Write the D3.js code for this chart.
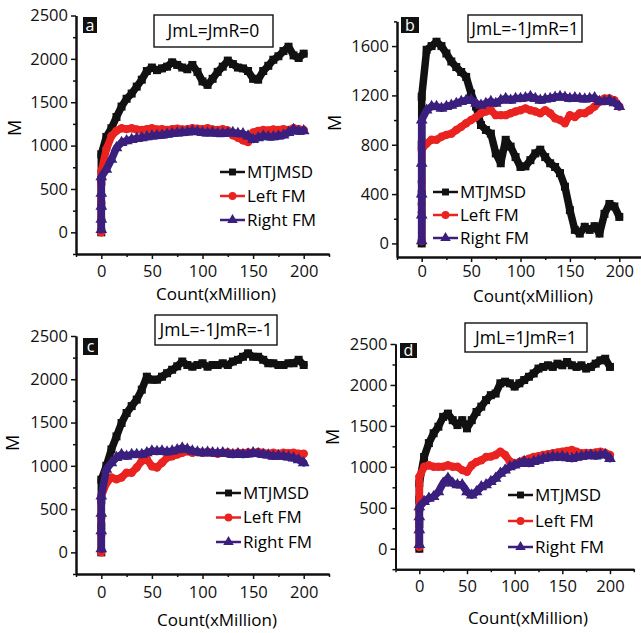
<!DOCTYPE html>
<html>
<head>
<meta charset="utf-8">
<script src="https://cdn.jsdelivr.net/npm/d3@7"></script>
<style>
  body { margin: 0; background: #fff; }
  svg { display: block; font-family: "Open Sans", sans-serif; }
  .axis path, .axis line { stroke: #111; }
  .axis text { fill: #111; }
</style>
</head>
<body>
<svg id="chart" width="641" height="633"></svg>
<script>
// x positions shared by every series (Count, xMillion)
var countX = [0, 5, 10, 15, 20, 25, 30, 35, 40, 45, 50, 55, 60, 65, 70, 75, 80, 85, 90, 95, 100,
  105, 110, 115, 120, 125, 130, 135, 140, 145, 150, 155, 160, 165, 170, 175, 180, 185, 190, 195, 200];

var seriesNames = ['MTJMSD', 'Left FM', 'Right FM'];
var seriesColors = ['#111111', '#ea2320', '#3a1f7e'];
var panelLetters = ['a', 'b', 'c', 'd'];
var panelTitles = ['JmL=JmR=0', 'JmL=-1JmR=1', 'JmL=-1JmR=-1', 'JmL=1JmR=1'];

var xMajorTicks = [0, 50, 100, 150, 200];
var xMinorTicks = [-25, 25, 75, 125, 175, 225];
var yMajorTicks = [0, 500, 1000, 1500, 2000, 2500];
var yMinorTicks = [-250, 250, 750, 1250, 1750, 2250];
var yMajorTicksB = [0, 400, 800, 1200, 1600];
var yMinorTicksB = [200, 600, 1000, 1400, 1800];

// first climb, all at count = 0
var aMtjRise = [0, 300, 600];
var aLeftRise = [0, 150, 350, 550];
var aRightRise = [30, 150, 300, 450];
var bMtjRise = [0, 400, 800];
var bLeftRise = [20, 250, 320, 500];
var bRightRise = [20, 230, 400, 650];
var cMtjRise = [0, 300, 600];
var cLeftRise = [0, 200, 400];
var cRightRise = [40, 250, 450];
var dMtjRise = [0, 300, 600];
var dLeftRise = [20, 200, 470];
var dRightRise = [50, 230, 390];

// panel a  JmL=JmR=0
var aMtj = [900, 1100, 1200, 1330, 1450, 1540, 1600, 1680, 1760, 1860, 1900, 1870, 1890, 1910, 1960, 1930, 1900, 1880, 1930, 1850, 1740,
  1700, 1770, 1850, 1910, 1980, 1940, 1900, 1890, 1860, 1770, 1760, 1860, 1920, 1990, 2030, 2090, 2140, 2040, 2010, 2060];
var aLeft = [700, 960, 1110, 1170, 1200, 1190, 1200, 1185, 1180, 1190, 1200, 1185, 1190, 1180, 1190, 1195, 1185, 1190, 1200, 1195, 1190,
  1200, 1185, 1180, 1190, 1175, 1120, 1090, 1060, 1040, 1150, 1170, 1180, 1175, 1185, 1180, 1190, 1180, 1200, 1190, 1180];
var aRight = [640, 725, 840, 975, 1035, 1055, 1070, 1080, 1090, 1100, 1110, 1115, 1120, 1130, 1140, 1145, 1150, 1155, 1165, 1160, 1150,
  1145, 1150, 1140, 1140, 1145, 1150, 1140, 1135, 1110, 1070, 1090, 1110, 1100, 1100, 1110, 1120, 1150, 1185, 1165, 1170];

// panel b  JmL=-1JmR=1
var bMtj = [1190, 1570, 1600, 1635, 1600, 1540, 1475, 1430, 1390, 1350, 1215, 1110, 960, 920, 890, 730, 650, 840, 785, 700, 620,
  625, 675, 730, 760, 700, 650, 620, 570, 460, 270, 110, 80, 135, 110, 140, 80, 240, 320, 300, 215];
var bLeft = [760, 810, 840, 840, 865, 880, 890, 920, 945, 975, 1000, 1025, 1055, 1070, 1080, 1040, 1040, 1040, 1055, 1070, 1080,
  1095, 1080, 1070, 1055, 1080, 1055, 1015, 1000, 975, 1040, 1025, 1055, 1055, 1080, 1110, 1150, 1175, 1175, 1160, 1110];
var bRight = [1000, 1080, 1110, 1110, 1095, 1110, 1120, 1135, 1150, 1160, 1165, 1135, 1120, 1135, 1150, 1135, 1160, 1175, 1160, 1175, 1175,
  1180, 1190, 1175, 1160, 1170, 1175, 1185, 1190, 1185, 1175, 1180, 1175, 1170, 1175, 1180, 1150, 1150, 1160, 1140, 1110];

// panel c  JmL=-1JmR=-1
var cMtj = [840, 1000, 1190, 1340, 1495, 1610, 1690, 1765, 1880, 2030, 1995, 1995, 2030, 2070, 2110, 2150, 2205, 2165, 2145, 2165, 2185,
  2145, 2165, 2165, 2185, 2165, 2205, 2225, 2260, 2300, 2260, 2260, 2225, 2185, 2185, 2165, 2165, 2185, 2185, 2225, 2165];
var cLeft = [650, 800, 865, 845, 865, 920, 920, 980, 1055, 1075, 995, 980, 1035, 1095, 1110, 1130, 1150, 1170, 1150, 1160, 1150,
  1160, 1150, 1140, 1150, 1155, 1140, 1150, 1145, 1155, 1150, 1160, 1150, 1140, 1150, 1140, 1150, 1145, 1150, 1140, 1140];
var cRight = [650, 960, 1035, 1095, 1130, 1110, 1130, 1130, 1130, 1150, 1170, 1165, 1170, 1160, 1170, 1185, 1205, 1190, 1170, 1160, 1150,
  1155, 1150, 1145, 1150, 1140, 1130, 1140, 1130, 1135, 1150, 1140, 1130, 1125, 1110, 1115, 1110, 1100, 1090, 1070, 1035];

// panel d  JmL=1JmR=1
var dMtj = [800, 1120, 1290, 1410, 1490, 1610, 1650, 1570, 1510, 1570, 1470, 1570, 1670, 1735, 1815, 1875, 1895, 2020, 2040, 2020, 1980,
  2020, 2060, 2100, 2140, 2200, 2220, 2240, 2220, 2260, 2240, 2280, 2240, 2220, 2240, 2200, 2220, 2260, 2300, 2320, 2220];
var dLeft = [880, 1000, 1020, 1000, 1000, 1000, 1020, 1000, 1000, 960, 940, 1020, 1060, 1080, 1120, 1125, 1145, 1185, 1145, 1065, 1040,
  1060, 1080, 1100, 1120, 1130, 1145, 1155, 1165, 1175, 1185, 1195, 1205, 1185, 1165, 1170, 1165, 1175, 1185, 1170, 1145];
var dRight = [510, 575, 615, 635, 695, 800, 860, 800, 780, 780, 695, 655, 695, 755, 780, 820, 860, 920, 960, 1000, 1020,
  1040, 1065, 1040, 1065, 1080, 1100, 1110, 1125, 1115, 1125, 1110, 1100, 1115, 1125, 1135, 1145, 1130, 1145, 1150, 1100];

var panelSeries = [
  [[aMtjRise, aMtj], [aLeftRise, aLeft], [aRightRise, aRight]],
  [[bMtjRise, bMtj], [bLeftRise, bLeft], [bRightRise, bRight]],
  [[cMtjRise, cMtj], [cLeftRise, cLeft], [cRightRise, cRight]],
  [[dMtjRise, dMtj], [dLeftRise, dLeft], [dRightRise, dRight]]
];

// layout of the four panels (pixels)
var layout = [
  { x: [76, 329], y: [254, 15.5], yDom: [-250, 2500], yMaj: yMajorTicks, yMin: yMinorTicks, xPad: 6,
    box: [154, 15, 119, 32], tag: [83, 17, 14, 16], leg: [220, 172, 24], mLab: [15, 128], xLab: [216, 300] },
  { x: [397, 644], y: [257, 21.4], yDom: [-110, 1800], yMaj: yMajorTicksB, yMin: yMinorTicksB, xPad: 3,
    box: [468, 15, 114, 27], tag: [401, 17, 18, 16], leg: [433, 192, 23], mLab: [335, 123], xLab: [533, 302] },
  { x: [76, 329], y: [574, 336], yDom: [-250, 2500], yMaj: yMajorTicks, yMin: yMinorTicks, xPad: 7,
    box: [155, 315, 122, 30], tag: [83, 338, 15, 17], leg: [216, 493, 24.5], mLab: [13, 443], xLab: [217, 626] },
  { x: [395.5, 633.8], y: [569.2, 344], yDom: [-250, 2500], yMaj: yMajorTicks, yMin: yMinorTicks, xPad: 6,
    box: [465, 323, 122, 29], tag: [400, 343, 17, 15], leg: [508, 495, 26], mLab: [333, 437], xLab: [528, 624] }
];

var symbols = [d3.symbolSquare, d3.symbolCircle, d3.symbolTriangle];
var symSizes = [64, 56, 60];
var fmt = d3.format('d');

var svg = d3.select('#chart');

layout.forEach(function(L, p) {
  var x = d3.scaleLinear().domain([-25, 225]).range(L.x);
  var y = d3.scaleLinear().domain(L.yDom).range(L.y);
  var g = svg.append('g');

  // series: thick band + markers
  panelSeries[p].forEach(function(s, k) {
    var pts = s[0].map(function(v) { return [0, v]; })
      .concat(s[1].map(function(v, i) { return [countX[i], v]; }));
    var line = d3.line().x(function(d) { return x(d[0]); }).y(function(d) { return y(d[1]); });
    g.append('path')
      .datum(pts)
      .attr('d', line)
      .attr('fill', 'none')
      .attr('stroke', seriesColors[k])
      .attr('stroke-width', 7.5)
      .attr('stroke-linejoin', 'round')
      .attr('stroke-linecap', 'round');
    g.selectAll('.m' + k)
      .data(pts)
      .enter()
      .append('path')
      .attr('class', 'm' + k)
      .attr('transform', function(d) { return 'translate(' + x(d[0]) + ',' + y(d[1]) + ')'; })
      .attr('d', d3.symbol().type(symbols[k]).size(symSizes[k]))
      .attr('fill', seriesColors[k]);
  });

  // axes
  var xAxisY = L.y[0];
  var yAxisX = L.x[0];
  g.append('g').attr('class', 'axis').attr('transform', 'translate(0,' + xAxisY + ')')
    .call(d3.axisBottom(x).tickValues(xMajorTicks).tickSize(5).tickSizeOuter(0).tickPadding(L.xPad).tickFormat(fmt));
  g.append('g').attr('class', 'axis').attr('transform', 'translate(0,' + xAxisY + ')')
    .call(d3.axisBottom(x).tickValues(xMinorTicks).tickSize(3).tickSizeOuter(0).tickFormat(''));
  g.append('g').attr('class', 'axis').attr('transform', 'translate(' + yAxisX + ',0)')
    .call(d3.axisLeft(y).tickValues(L.yMaj).tickSize(5).tickSizeOuter(0).tickPadding(3).tickFormat(fmt));
  g.append('g').attr('class', 'axis').attr('transform', 'translate(' + yAxisX + ',0)')
    .call(d3.axisLeft(y).tickValues(L.yMin).tickSize(3).tickSizeOuter(0).tickFormat(''));
  g.selectAll('.axis path').attr('stroke-width', 2);
  g.selectAll('.axis line').attr('stroke-width', 1.5);
  g.selectAll('.axis text').attr('font-size', 16.5).attr('font-family', '"Open Sans", sans-serif');

  // axis titles
  g.append('text')
    .attr('transform', 'translate(' + L.mLab[0] + ',' + L.mLab[1] + ') rotate(-90)')
    .attr('text-anchor', 'middle')
    .attr('dy', '0.35em')
    .attr('font-size', 18)
    .text('M');
  g.append('text')
    .attr('x', L.xLab[0])
    .attr('y', L.xLab[1])
    .attr('text-anchor', 'middle')
    .attr('font-size', 17)
    .text('Count(xMillion)');

  // panel letter tag
  g.append('rect')
    .attr('x', L.tag[0]).attr('y', L.tag[1])
    .attr('width', L.tag[2]).attr('height', L.tag[3])
    .attr('fill', '#111');
  g.append('text')
    .attr('x', L.tag[0] + L.tag[2] / 2)
    .attr('y', L.tag[1] + L.tag[3] / 2)
    .attr('dy', '0.35em')
    .attr('text-anchor', 'middle')
    .attr('font-size', 16)
    .attr('fill', '#fff')
    .text(panelLetters[p]);

  // title box
  g.append('rect')
    .attr('x', L.box[0]).attr('y', L.box[1])
    .attr('width', L.box[2]).attr('height', L.box[3])
    .attr('fill', '#fff')
    .attr('stroke', '#111')
    .attr('stroke-width', 1.4);
  g.append('text')
    .attr('x', L.box[0] + L.box[2] / 2)
    .attr('y', L.box[1] + L.box[3] / 2)
    .attr('dy', '0.35em')
    .attr('text-anchor', 'middle')
    .attr('font-size', 17.5)
    .text(panelTitles[p]);

  // legend
  seriesNames.forEach(function(name, k) {
    var ly = L.leg[1] + k * L.leg[2];
    var lx = L.leg[0];
    g.append('line')
      .attr('x1', lx).attr('x2', lx + 25)
      .attr('y1', ly).attr('y2', ly)
      .attr('stroke', seriesColors[k])
      .attr('stroke-width', 2.5);
    g.append('path')
      .attr('transform', 'translate(' + (lx + 12.5) + ',' + ly + ')')
      .attr('d', d3.symbol().type(symbols[k]).size(48))
      .attr('fill', seriesColors[k]);
    g.append('text')
      .attr('x', lx + 27)
      .attr('y', ly)
      .attr('dy', '0.35em')
      .attr('font-size', 17)
      .text(name);
  });
});
</script>
</body>
</html>
